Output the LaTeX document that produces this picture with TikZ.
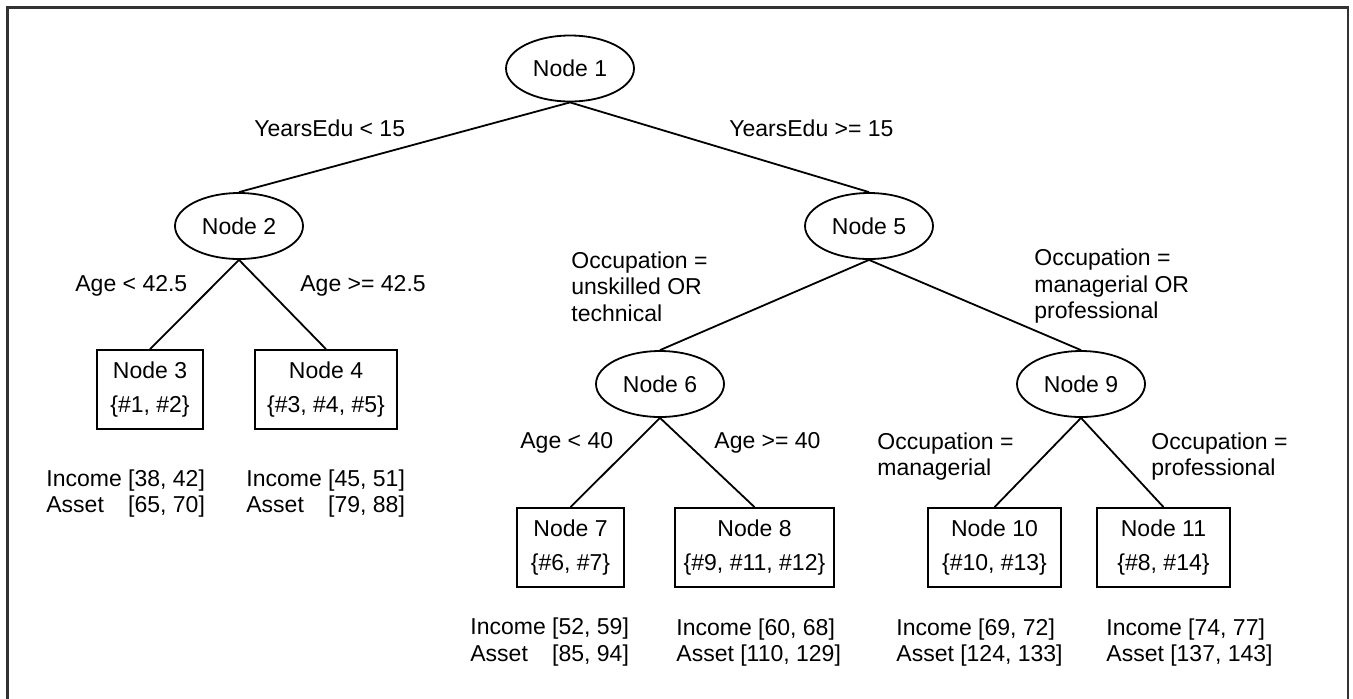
\documentclass[tikz,border=0pt]{standalone}
\usepackage{fontspec}
\setmainfont{Liberation Sans}
\usetikzlibrary{shapes.geometric}
\tikzset{
  split/.style={ellipse,draw,line width=0.9pt,minimum width=64pt,minimum height=33pt,inner sep=0pt,font=\fontsize{11.5}{13.25}\selectfont},
  leaf/.style={rectangle,draw,line width=0.9pt,minimum height=39.5pt,align=center,inner sep=0pt,font=\fontsize{11.5}{17}\selectfont},
  rule/.style={anchor=west,align=left,inner sep=0pt,font=\fontsize{11.5}{13.25}\selectfont},
  edge/.style={line width=0.9pt}
}
\begin{document}
\begin{tikzpicture}[x=0.5pt,y=-0.5pt]
\useasboundingbox (0,0) rectangle (1353,698);
\draw[line width=1.25pt,black!80] (7.5,700) -- (7.5,7.5) -- (1348,7.5) -- (1348,700);
% split nodes
\node [split] (n1) at (570,68.5) {Node 1};
\node [split] (n2) at (239,226) {Node 2};
\node [split] (n5) at (869,226) {Node 5};
\node [split] (n6) at (660,384) {Node 6};
\node [split] (n9) at (1081,384) {Node 9};
% leaves
\node [leaf,minimum width=53pt] (n3) at (150,389.5) {Node 3\\\{\#1, \#2\}};
\node [leaf,minimum width=71pt] (n4) at (326,389.5) {Node 4\\\{\#3, \#4, \#5\}};
\node [leaf,minimum width=53.5pt] (n7) at (570.5,547.5) {Node 7\\\{\#6, \#7\}};
\node [leaf,minimum width=79.5pt] (n8) at (754.5,547.5) {Node 8\\\{\#9, \#11, \#12\}};
\node [leaf,minimum width=66.5pt] (n10) at (994.5,547.5) {Node 10\\\{\#10, \#13\}};
\node [leaf,minimum width=66.5pt] (n11) at (1163.5,547.5) {Node 11\\\{\#8, \#14\}};
% branches
\draw[edge] (n1.south) -- (n2.north);
\draw[edge] (n1.south) -- (n5.north);
\draw[edge] (n2.south) -- (n3.north);
\draw[edge] (n2.south) -- (n4.north);
\draw[edge] (n5.south) -- (n6.north);
\draw[edge] (n5.south) -- (n9.north);
\draw[edge] (n6.south) -- (n7.north);
\draw[edge] (n6.south) -- (n8.north);
\draw[edge] (n9.south) -- (n10.north);
\draw[edge] (n9.south) -- (n11.north);
% split rules
\node [rule] (r12) at (254,128) {YearsEdu < 15};
\node [rule] (r15) at (729,128) {YearsEdu >= 15};
\node [rule] (r23) at (75,286) {Age < 42.5};
\node [rule] (r24) at (300,286) {Age >= 42.5};
\node [rule] (r56) at (571,286.5) {Occupation =\\unskilled OR\\technical};
\node [rule] (r59) at (1034,286.5) {Occupation =\\managerial OR\\professional};
\node [rule] (r67) at (520,443) {Age < 40};
\node [rule] (r68) at (714,443) {Age >= 40};
\node [rule] (r910) at (877,456.5) {Occupation =\\managerial};
\node [rule] (r911) at (1151,456.5) {Occupation =\\professional};
% ranges
\node [rule] (s3) at (46,494) {\begin{tabular}{@{}l@{ }l@{}}Income & [38, 42]\\Asset & [65, 70]\end{tabular}};
\node [rule] (s4) at (246,494) {\begin{tabular}{@{}l@{ }l@{}}Income & [45, 51]\\Asset & [79, 88]\end{tabular}};
\node [rule] (s7) at (470,642.5) {\begin{tabular}{@{}l@{ }l@{}}Income & [52, 59]\\Asset & [85, 94]\end{tabular}};
\node [rule] (s8) at (676,642.5) {Income [60, 68]\\Asset [110, 129]};
\node [rule] (s10) at (896,642.5) {Income [69, 72]\\Asset [124, 133]};
\node [rule] (s11) at (1106,642.5) {Income [74, 77]\\Asset [137, 143]};
\end{tikzpicture}
\end{document}
